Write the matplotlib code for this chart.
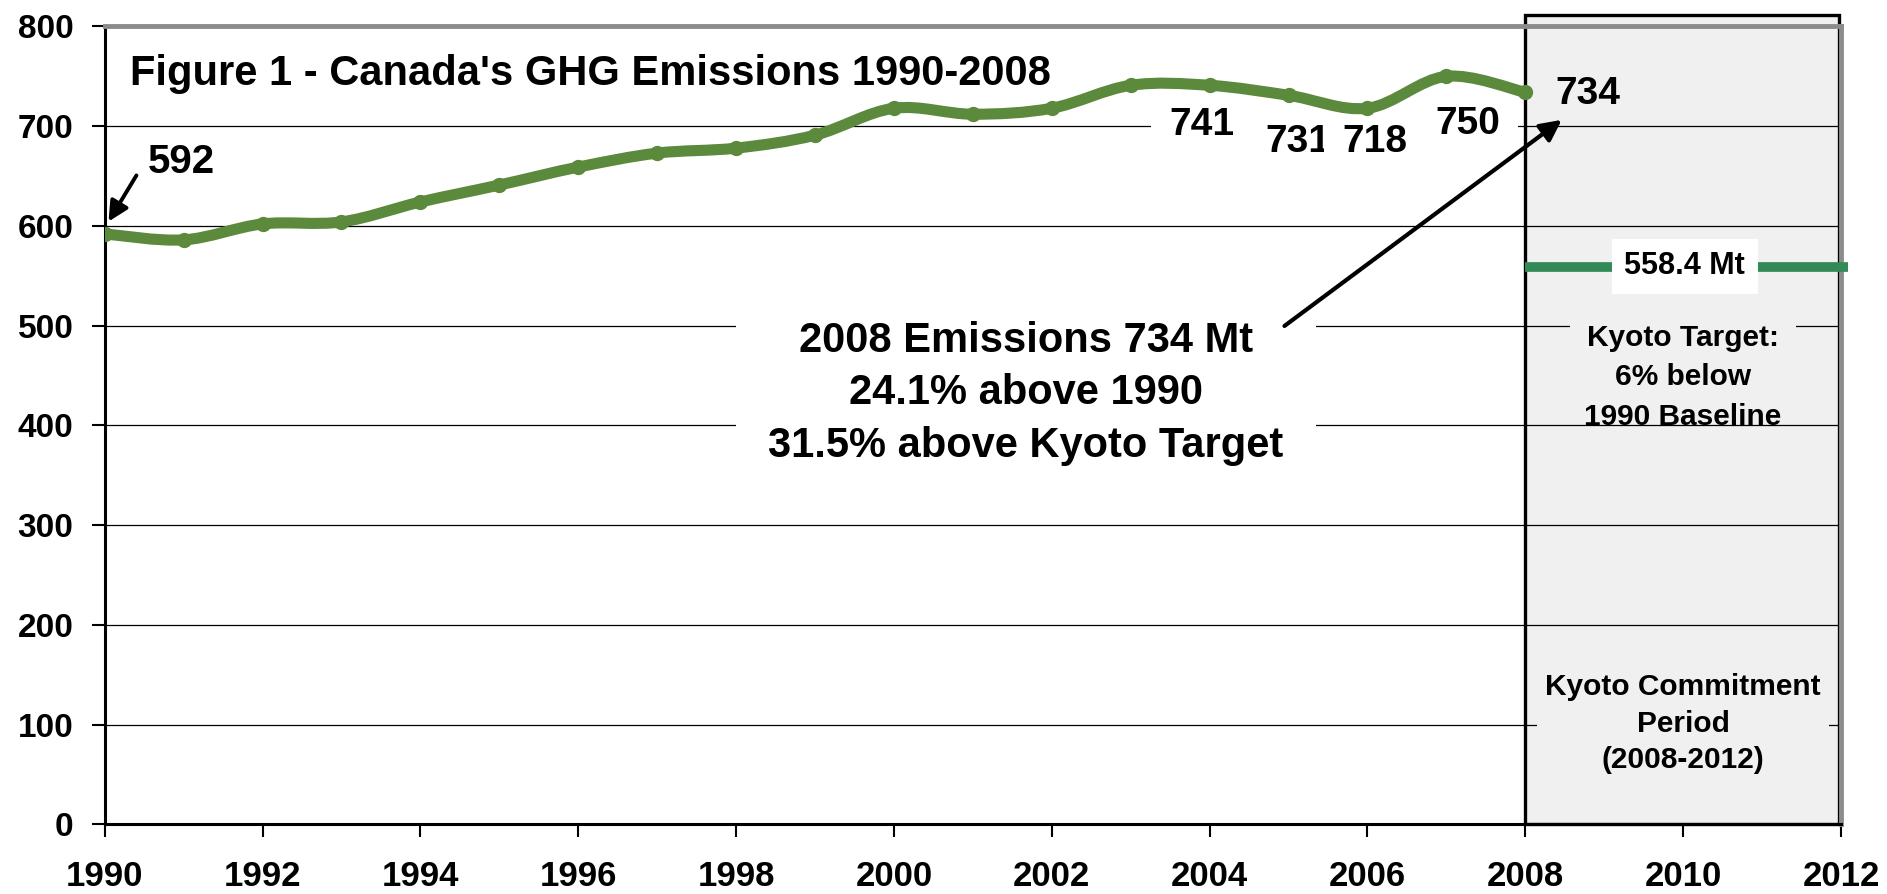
import matplotlib
matplotlib.use("Agg")
import matplotlib.pyplot as plt
from matplotlib.path import Path
from matplotlib.patches import PathPatch, Rectangle
from matplotlib import font_manager as fm

years = [1990, 1991, 1992, 1993, 1994, 1995, 1996, 1997, 1998, 1999,
         2000, 2001, 2002, 2003, 2004, 2005, 2006, 2007, 2008]
emissions = [592, 586, 602, 604, 624, 641, 659, 673, 678, 691,
             718, 712, 718, 741, 741, 731, 718, 750, 734]
kyoto_target = 558.4
period = (2008, 2012)
yticks = [0, 100, 200, 300, 400, 500, 600, 700, 800]
xticks = [1990, 1992, 1994, 1996, 1998, 2000, 2002, 2004, 2006, 2008, 2010, 2012]
labels = [("741", 2003.9, 701), ("731", 2005.12, 684), ("718", 2006.09, 684),
          ("750", 2007.27, 702), ("734", 2008.79, 732)]

names = {f.name for f in fm.fontManager.ttflist}
narrow = ['Liberation Sans Narrow', 'Liberation Sans'] if 'Liberation Sans Narrow' in names else ['Liberation Sans']
plt.rcParams['font.family'] = ['Liberation Sans', 'DejaVu Sans']

LINE = '#5b8a3c'
KGREEN = '#338a57'
BOXC = '#f0f0f0'

fig = plt.figure(figsize=(18.87, 8.94), dpi=100)
ax = fig.add_axes([0.0555, 0.078, 0.9201, 0.8924])
ax.set_xlim(1990, 2012)
ax.set_ylim(0, 800)
ax.set_axisbelow(True)

# spines
for s in ['left', 'bottom']:
    ax.spines[s].set_linewidth(2.2)
    ax.spines[s].set_color('black')
for s in ['top', 'right']:
    ax.spines[s].set_linewidth(3.5)
    ax.spines[s].set_color('#8c8c8c')

ax.set_yticks(yticks)
ax.set_xticks(xticks)
ax.tick_params(axis='both', direction='out', length=9.5, width=1.5)
ax.tick_params(axis='y', labelsize=24, pad=13)
ax.tick_params(axis='x', labelsize=25, pad=16)
for lab in ax.get_xticklabels() + ax.get_yticklabels():
    lab.set_fontweight('bold')
ax.yaxis.grid(True, color='black', linewidth=0.9)
ax.xaxis.grid(False)

# Kyoto commitment period box
ax.add_patch(Rectangle((period[0], 0), period[1] - period[0], 811, facecolor=BOXC,
                       edgecolor='none', zorder=0.3, clip_on=False))
ax.add_patch(Rectangle((period[0], 0), period[1] - period[0] - 0.03, 811, facecolor='none',
                       edgecolor='black', linewidth=2.4, zorder=2.5, clip_on=False))

# smoothed emissions line (Catmull-Rom as cubic Bezier)
pts = list(zip(years, emissions))
verts = [pts[0]]
codes = [Path.MOVETO]
n = len(pts)
for i in range(n - 1):
    p0 = pts[i - 1] if i > 0 else pts[i]
    p1 = pts[i]
    p2 = pts[i + 1]
    p3 = pts[i + 2] if i + 2 < n else pts[i + 1]
    c1 = (p1[0] + (p2[0] - p0[0]) / 6, p1[1] + (p2[1] - p0[1]) / 6)
    c2 = (p2[0] - (p3[0] - p1[0]) / 6, p2[1] - (p3[1] - p1[1]) / 6)
    verts += [c1, c2, p2]
    codes += [Path.CURVE4] * 3
ax.add_patch(PathPatch(Path(verts, codes), facecolor='none', edgecolor=LINE,
                       linewidth=8, capstyle='round', joinstyle='round', zorder=6))
ax.plot(years, emissions, 'o', color=LINE, markersize=10, zorder=6.5)

# Kyoto target line
ax.plot([period[0], 2012.09], [kyoto_target, kyoto_target], color=KGREEN, linewidth=7,
        solid_capstyle='butt', zorder=3, clip_on=False)
ax.text(2010.02, kyoto_target + 1, f"{kyoto_target} Mt", ha='center', va='center', fontsize=22,
        family=narrow, fontweight='bold', zorder=5,
        bbox=dict(facecolor='white', edgecolor='none', pad=9))

# title
ax.text(1990.32, 752, "Figure 1 - Canada's GHG Emissions 1990-2008", ha='left', va='center',
        fontsize=30, fontweight='bold', zorder=5)

# 592 label + arrow
ax.text(1990.55, 664, "592", ha='left', va='center', fontsize=29, fontweight='bold', zorder=5)
ax.annotate("", xy=(1990.03, 602), xytext=(1990.42, 653),
            arrowprops=dict(arrowstyle='-|>', color='black', lw=2.8, mutation_scale=30), zorder=7)

# value labels
for txt, x, y in labels:
    ax.text(x, y, txt, ha='center', va='center', fontsize=28, family=narrow, fontweight='bold',
            zorder=5, bbox=dict(facecolor='white' if x < 2008 else BOXC, edgecolor='none',
                                pad=13 if x < 2008 else 6))

# big annotation arrow
ax.annotate("", xy=(2008.49, 708), xytext=(2004.92, 498),
            arrowprops=dict(arrowstyle='-|>', color='black', lw=3, mutation_scale=32), zorder=7)
ax.text(2001.67, 432, "2008 Emissions 734 Mt\n24.1% above 1990\n31.5% above Kyoto Target",
        ha='center', va='center', fontsize=30, family=narrow, fontweight='bold',
        linespacing=1.4, zorder=5,
        bbox=dict(boxstyle='square', facecolor='white', edgecolor='none', pad=0.78))

# Kyoto target text
kt_size = 21.5
ax.text(2010.0, 488, "Kyoto Target:", ha='center', va='center', fontsize=kt_size, fontweight='bold',
        zorder=5, bbox=dict(facecolor=BOXC, edgecolor='none', pad=12))
ax.text(2010.0, 448, "6% below", ha='center', va='center', fontsize=kt_size, fontweight='bold', zorder=5)
ax.text(2010.0, 408, "1990 Baseline", ha='center', va='center', fontsize=kt_size, fontweight='bold', zorder=5)

# commitment period text
ax.text(2010.0, 101, "Kyoto Commitment\nPeriod\n(2008-2012)", ha='center', va='center',
        fontsize=kt_size, fontweight='bold', linespacing=1.38, zorder=5,
        bbox=dict(facecolor=BOXC, edgecolor='none', pad=6))

fig.savefig("out.png", dpi=100)
